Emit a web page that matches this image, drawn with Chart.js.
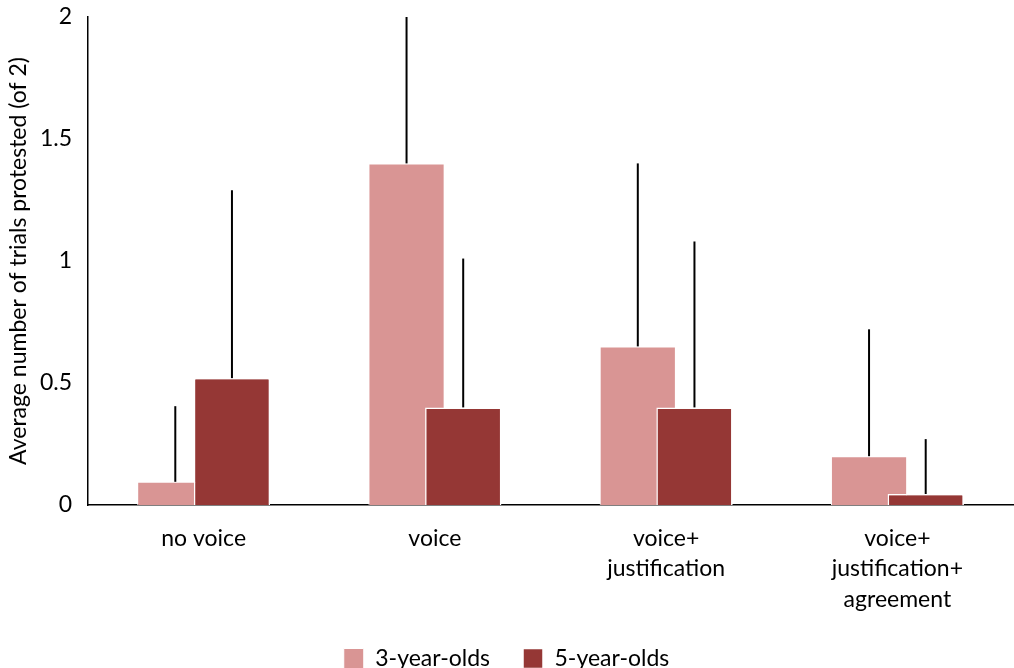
<!DOCTYPE html>
<html>
<head>
<meta charset="utf-8">
<script src="https://cdn.jsdelivr.net/npm/chart.js@4.4.1/dist/chart.umd.min.js"></script>
<style>
html, body { margin: 0; padding: 0; background: #fff; overflow: hidden; }
</style>
</head>
<body>
<canvas id="grafico" width="1014" height="680"></canvas>
<script>
// data
var categorias = [["no voice"], ["voice"], ["voice+", "justification"], ["voice+", "justification+", "agreement"]];
var tresAnos = [0.095, 1.40, 0.65, 0.20];
var tresAnosErro = [0.31, 0.60, 0.75, 0.52];
var cincoAnos = [0.52, 0.40, 0.40, 0.045];
var cincoAnosErro = [0.77, 0.61, 0.68, 0.225];
var yTicks = [0, 0.5, 1, 1.5, 2];

var fonte = "Lato, 'Liberation Sans', sans-serif";

// dark bars sit on top of the pink ones, then the upper error lines
var barrasDeErro = {
    id: 'barrasDeErro',
    afterDatasetsDraw: function (chart) {
        var ctx = chart.ctx;
        var area = chart.chartArea;
        chart.getDatasetMeta(1).controller.draw();
        var y = chart.scales.y;
        var erros = [tresAnosErro, cincoAnosErro];
        ctx.save();
        ctx.beginPath();
        ctx.rect(area.left, area.top, area.right - area.left, area.bottom - area.top);
        ctx.clip();
        ctx.strokeStyle = "#000";
        ctx.lineWidth = 2;
        [0, 1].forEach(function (d) {
            var valores = chart.data.datasets[d].data;
            chart.getDatasetMeta(d).data.forEach(function (el, i) {
                ctx.beginPath();
                ctx.moveTo(el.x, y.getPixelForValue(valores[i]));
                ctx.lineTo(el.x, y.getPixelForValue(valores[i] + erros[d][i]));
                ctx.stroke();
            });
        });
        ctx.restore();
    }
};

var ctx = document.getElementById("grafico").getContext('2d');
var grafico = new Chart(ctx, {
    type: 'bar',
    data: {
        labels: categorias,
        datasets: [
            {
                label: "3-year-olds",
                data: tresAnos,
                backgroundColor: "#D99594",
                borderColor: "#ffffff",
                borderWidth: 1,
                categoryPercentage: 0.49,
                barPercentage: 1.345
            },
            {
                label: "5-year-olds",
                data: cincoAnos,
                backgroundColor: "#953735",
                borderColor: "#ffffff",
                borderWidth: 1.5,
                categoryPercentage: 0.49,
                barPercentage: 1.345
            }
        ]
    },
    options: {
        responsive: false,
        animation: false,
        devicePixelRatio: 1,
        layout: { padding: { top: 17, right: 1, left: 0, bottom: 0 } },
        plugins: {
            tooltip: { enabled: false },
            legend: {
                position: 'bottom',
                labels: {
                    boxWidth: 20,
                    boxHeight: 20,
                    padding: 33,
                    color: "#000",
                    font: { family: fonte, size: 23 }
                }
            }
        },
        scales: {
            x: {
                grid: { display: false, drawTicks: false },
                border: { display: true, color: "#000", width: 1.5 },
                ticks: {
                    color: "#000",
                    padding: 18,
                    maxRotation: 0,
                    autoSkip: false,
                    font: { family: fonte, size: 23, lineHeight: 1.33 }
                },
                afterFit: function (s) { s.height = 109; }
            },
            y: {
                min: 0,
                max: 2,
                grid: { display: false, drawTicks: false },
                border: { display: true, color: "#000", width: 1.5 },
                ticks: {
                    color: "#000",
                    padding: 16,
                    font: { family: fonte, size: 23 },
                    callback: function (v) { return String(v); }
                },
                afterBuildTicks: function (s) {
                    s.ticks = yTicks.map(function (v) { return { value: v }; });
                },
                title: {
                    display: true,
                    text: "Average number of trials protested (of 2)",
                    color: "#000",
                    padding: { top: 5, bottom: 0 },
                    font: { family: fonte, size: 23 }
                },
                afterFit: function (s) {
                    s.width = 88;
                    s.paddingTop = 0;
                    s.paddingBottom = 0;
                }
            }
        }
    },
    plugins: [barrasDeErro]
});
</script>
</body>
</html>
